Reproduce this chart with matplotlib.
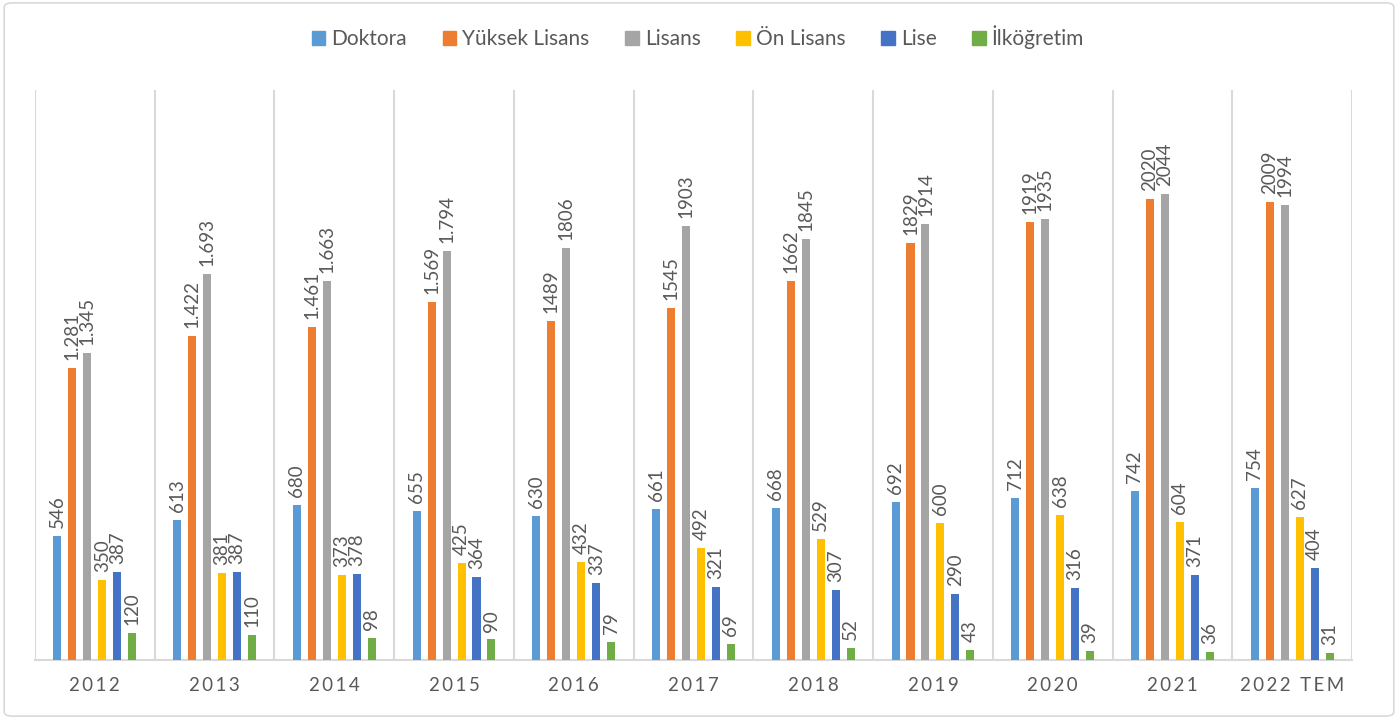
import matplotlib.pyplot as plt
import matplotlib.patches as mpatches
import numpy as np

years = ['2012', '2013', '2014', '2015', '2016', '2017', '2018', '2019', '2020', '2021', '2022 TEM']
series = ['Doktora', 'Yüksek Lisans', 'Lisans', 'Ön Lisans', 'Lise', 'İlköğretim']
doktora = [546, 613, 680, 655, 630, 661, 668, 692, 712, 742, 754]
yuksek_lisans = [1281, 1422, 1461, 1569, 1489, 1545, 1662, 1829, 1919, 2020, 2009]
lisans = [1345, 1693, 1663, 1794, 1806, 1903, 1845, 1914, 1935, 2044, 1994]
on_lisans = [350, 381, 373, 425, 432, 492, 529, 600, 638, 604, 627]
lise = [387, 387, 378, 364, 337, 321, 307, 290, 316, 371, 404]
ilkogretim = [120, 110, 98, 90, 79, 69, 52, 43, 39, 36, 31]
# years whose labels use a dot as thousands separator
dot_years = ['2012', '2013', '2014', '2015']

colors = ['#5B9BD5', '#ED7D31', '#A5A5A5', '#FFC000', '#4472C4', '#70AD47']
data = [doktora, yuksek_lisans, lisans, on_lisans, lise, ilkogretim]
txt = '#595959'

plt.rcParams['font.family'] = ['Lato', 'DejaVu Sans']

fig = plt.figure(figsize=(13.98, 7.19), dpi=100)
ax = fig.add_axes([35/1398, 59/719, 1317/1398, 570/719])

x = np.arange(len(years))
w = 0.067
step = 0.125
for i, (name, vals) in enumerate(zip(series, data)):
    pos = x + (i - 2.5) * step
    ax.bar(pos, vals, w, color=colors[i], label=name, zorder=3)
    for j, v in enumerate(vals):
        if v >= 1000 and years[j] in dot_years:
            lab = '{:,}'.format(v).replace(',', '.')
        else:
            lab = str(v)
        ax.text(pos[j], v + 35, lab, rotation=90, ha='center', va='bottom',
                fontsize=13.5, color=txt, zorder=4)

for b in np.arange(-0.5, len(years), 1.0):
    ax.axvline(b, color='#D9D9D9', lw=1.5, zorder=1)

ax.set_xlim(-0.5, len(years) - 0.5)
ax.set_ylim(0, 2500)
ax.set_yticks([])
ax.set_xticks(x)
ax.set_xticklabels(['\u2009'.join(list(y)) for y in years], fontsize=13.5, color=txt)
ax.tick_params(axis='x', length=0, pad=12)
for s in ['top', 'left', 'right']:
    ax.spines[s].set_visible(False)
ax.spines['bottom'].set_color('#D9D9D9')
ax.spines['bottom'].set_linewidth(1.5)

handles = [mpatches.Patch(color=c) for c in colors]
fig.legend(handles, series, loc='center', bbox_to_anchor=(698/1398, 1 - 37/719),
           ncol=6, frameon=False, fontsize=15, labelcolor=txt,
           handlelength=0.65, handleheight=0.65, handletextpad=0.3, columnspacing=1.7)

fig.patches.append(mpatches.FancyBboxPatch((0.003, 0.004), 0.994, 0.992,
                   boxstyle='round,pad=0,rounding_size=0.006', transform=fig.transFigure,
                   fill=False, edgecolor='#D9D9D9', lw=1.2))

fig.savefig('out.png', dpi=100)
